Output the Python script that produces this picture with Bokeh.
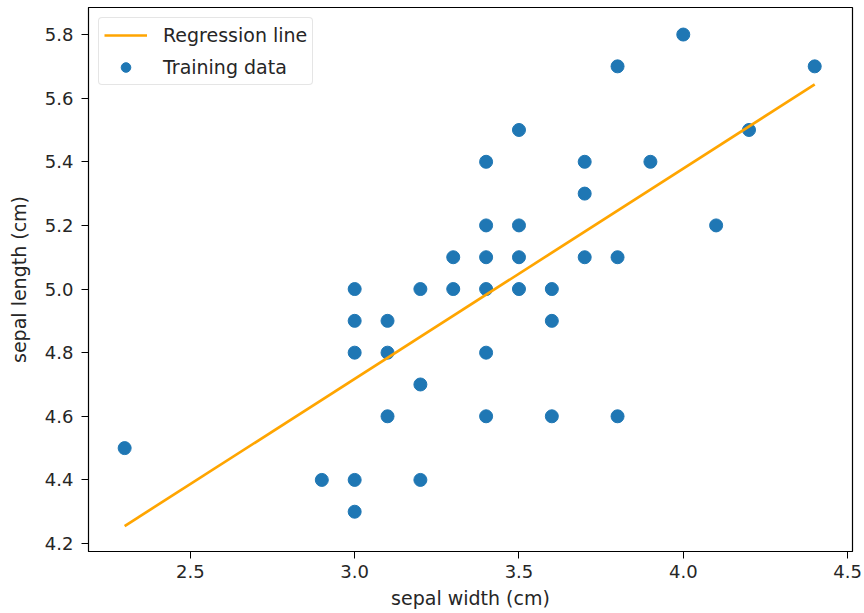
from bokeh.plotting import figure
from bokeh.models import Range1d, FixedTicker, Legend, LegendItem, ColumnDataSource
from bokeh.embed import file_html
from bokeh.resources import INLINE

# Training data (sepal width, sepal length)
sepal_width = [2.3, 2.9, 3.0, 3.0, 3.0, 3.0, 3.0, 3.1, 3.1, 3.1, 3.2, 3.2, 3.2,
               3.3, 3.3, 3.4, 3.4, 3.4, 3.4, 3.4, 3.4, 3.5, 3.5, 3.5, 3.5,
               3.6, 3.6, 3.6, 3.7, 3.7, 3.7, 3.8, 3.8, 3.8, 3.9, 4.0, 4.1, 4.2, 4.4]
sepal_length = [4.5, 4.4, 4.4, 4.3, 4.8, 4.9, 5.0, 4.9, 4.8, 4.6, 5.0, 4.7, 4.4,
                5.1, 5.0, 5.4, 5.2, 5.1, 5.0, 4.8, 4.6, 5.5, 5.2, 5.1, 5.0,
                5.0, 4.9, 4.6, 5.4, 5.3, 5.1, 5.7, 5.1, 4.6, 5.4, 5.8, 5.2, 5.5, 5.7]

# Regression line endpoints
reg_x = [2.3, 4.4]
reg_y = [4.255, 5.643]

x_ticks = [2.5, 3.0, 3.5, 4.0, 4.5]
x_tick_labels = ["2.5", "3.0", "3.5", "4.0", "4.5"]
y_ticks = [4.2, 4.4, 4.6, 4.8, 5.0, 5.2, 5.4, 5.6, 5.8]
y_tick_labels = ["4.2", "4.4", "4.6", "4.8", "5.0", "5.2", "5.4", "5.6", "5.8"]

FONT = "DejaVu Sans"
TXT = "#262626"

p = figure(width=864, height=613, output_backend="svg", toolbar_location=None,
           x_range=Range1d(2.19, 4.515), y_range=Range1d(4.175, 5.885),
           min_border_left=88, min_border_right=12, min_border_top=7, min_border_bottom=62)

p.xgrid.visible = False
p.ygrid.visible = False
p.outline_line_color = "black"
p.outline_line_width = 1.2
p.outline_line_alpha = 1.0

pts = ColumnDataSource(dict(x=sepal_width, y=sepal_length))
sc = p.scatter("x", "y", source=pts, size=13, color="#1f77b4", line_color="#1f77b4")
reg = ColumnDataSource(dict(x=reg_x, y=reg_y))
ln = p.line("x", "y", source=reg, line_color="#ffa500", line_width=2.7)

p.xaxis.ticker = FixedTicker(ticks=x_ticks)
p.xaxis.major_label_overrides = {t: l for t, l in zip(x_ticks, x_tick_labels)}
p.yaxis.ticker = FixedTicker(ticks=y_ticks)
p.yaxis.major_label_overrides = {t: l for t, l in zip(y_ticks, y_tick_labels)}

for ax in (p.xaxis, p.yaxis):
    ax.axis_line_color = "black"
    ax.major_tick_line_color = "black"
    ax.minor_tick_line_color = None
    ax.major_tick_in = 0
    ax.major_tick_out = 7
    ax.major_label_text_font = FONT
    ax.major_label_text_font_size = "18px"
    ax.major_label_text_color = TXT
    ax.axis_label_text_font = FONT
    ax.axis_label_text_font_size = "19px"
    ax.axis_label_text_font_style = "normal"
    ax.axis_label_text_color = TXT

p.xaxis.axis_label = "sepal width (cm)"
p.yaxis.axis_label = "sepal length (cm)"
p.xaxis.major_label_standoff = 6
p.yaxis.major_label_standoff = 8
p.xaxis.axis_label_standoff = 6
p.yaxis.axis_label_standoff = 12

legend = Legend(items=[LegendItem(label="Regression line", renderers=[ln]),
                       LegendItem(label="Training data", renderers=[sc])],
                location="top_left")
legend.margin = 10
legend.padding = 5
legend.spacing = 8
legend.glyph_width = 43
legend.glyph_height = 24
legend.label_height = 24
legend.label_standoff = 16
legend.label_text_font = FONT
legend.label_text_font_size = "19px"
legend.label_text_color = TXT
legend.border_line_color = "#cccccc"
legend.border_line_width = 1
legend.background_fill_color = "white"
legend.background_fill_alpha = 0.8
if "border_radius" in Legend.properties():
    legend.border_radius = 4
p.add_layout(legend)

open("out.html", "w").write(file_html(p, INLINE))
